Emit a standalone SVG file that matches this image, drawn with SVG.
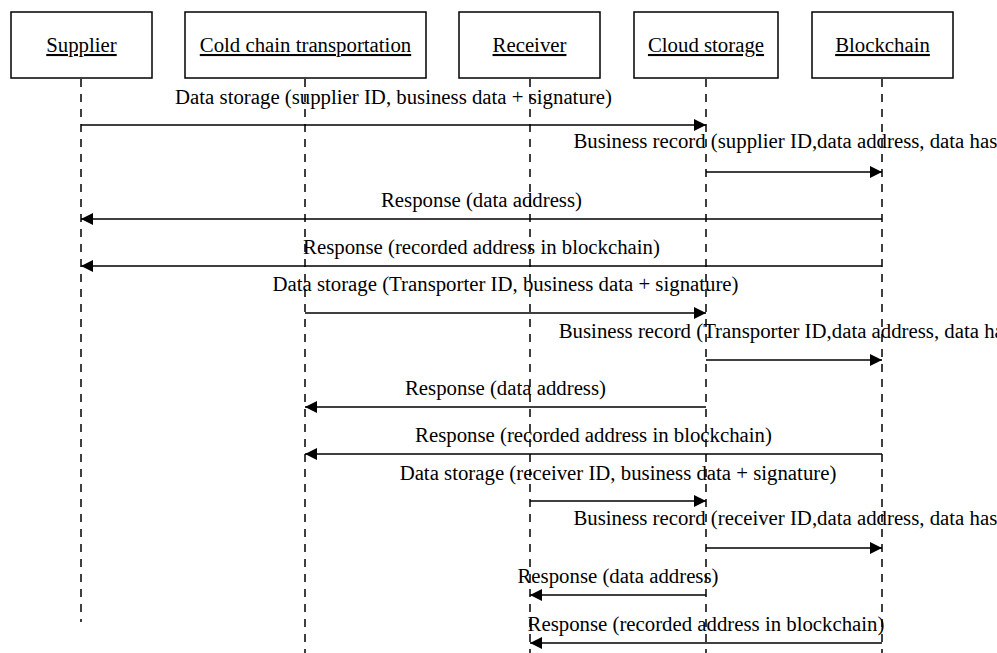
<svg xmlns="http://www.w3.org/2000/svg" width="997" height="653" viewBox="0 0 997 653">
<defs>
<style>
.box{fill:#fff;stroke:#000;stroke-width:1.5}
.lbl{font-family:"Liberation Serif","Times New Roman",serif;font-size:20.8px;fill:#000;text-anchor:middle}
.u{text-decoration:underline}
.life{stroke:#000;stroke-width:1.5;stroke-dasharray:8 7;fill:none}
.msg{stroke:#000;stroke-width:1.6;fill:none;marker-end:url(#ah)}
</style>
<marker id="ah" viewBox="0 0 12 12" refX="12" refY="6" markerWidth="12" markerHeight="12" markerUnits="userSpaceOnUse" orient="auto">
<path d="M0,0 L12,6 L0,12 Z" fill="#000"/>
</marker>
</defs>
<rect width="997" height="653" fill="#fff"/>
<g id="lifelines">
<line class="life" x1="81" y1="79" x2="81" y2="622"/>
<line class="life" x1="305" y1="79" x2="305" y2="653"/>
<line class="life" x1="530" y1="79" x2="530" y2="653"/>
<line class="life" x1="706" y1="79" x2="706" y2="653"/>
<line class="life" x1="882" y1="79" x2="882" y2="653"/>
</g>
<g id="supplier"><rect class="box" x="11" y="12" width="141" height="66"/><text class="lbl u" x="81.5" y="52">Supplier</text></g>
<g id="transport"><rect class="box" x="185" y="12" width="241" height="66"/><text class="lbl u" x="305.5" y="52">Cold chain transportation</text></g>
<g id="receiver"><rect class="box" x="459" y="12" width="141" height="66"/><text class="lbl u" x="529.5" y="52">Receiver</text></g>
<g id="cloud"><rect class="box" x="634" y="12" width="144" height="66"/><text class="lbl u" x="706" y="52">Cloud storage</text></g>
<g id="blockchain"><rect class="box" x="812" y="12" width="141" height="66"/><text class="lbl u" x="882.5" y="52">Blockchain</text></g>
<g id="connectors">
<line class="msg" x1="81" y1="125" x2="706" y2="125"/>
<line class="msg" x1="706" y1="172" x2="882" y2="172"/>
<line class="msg" x1="882" y1="219" x2="81" y2="219"/>
<line class="msg" x1="882" y1="266" x2="81" y2="266"/>
<line class="msg" x1="305" y1="313" x2="706" y2="313"/>
<line class="msg" x1="706" y1="360" x2="882" y2="360"/>
<line class="msg" x1="706" y1="407" x2="305" y2="407"/>
<line class="msg" x1="882" y1="454" x2="305" y2="454"/>
<line class="msg" x1="530" y1="501" x2="706" y2="501"/>
<line class="msg" x1="706" y1="548" x2="882" y2="548"/>
<line class="msg" x1="706" y1="595" x2="530" y2="595"/>
<line class="msg" x1="882" y1="643" x2="530" y2="643"/>
</g>
<g id="labels">
<text class="lbl" x="393.5" y="104">Data storage (supplier ID, business data + signature)</text>
<text class="lbl" x="794" y="148">Business record (supplier ID,data address, data hash)</text>
<text class="lbl" x="481.5" y="207">Response (data address)</text>
<text class="lbl" x="481.5" y="254">Response (recorded address in blockchain)</text>
<text class="lbl" x="505.5" y="291">Data storage (Transporter ID, business data + signature)</text>
<text class="lbl" x="794" y="338">Business record (Transporter ID,data address, data hash)</text>
<text class="lbl" x="505.5" y="395">Response (data address)</text>
<text class="lbl" x="593.5" y="442">Response (recorded address in blockchain)</text>
<text class="lbl" x="618" y="480">Data storage (receiver ID, business data + signature)</text>
<text class="lbl" x="794" y="525">Business record (receiver ID,data address, data hash)</text>
<text class="lbl" x="618" y="583">Response (data address)</text>
<text class="lbl" x="706" y="631">Response (recorded address in blockchain)</text>
</g>
</svg>
